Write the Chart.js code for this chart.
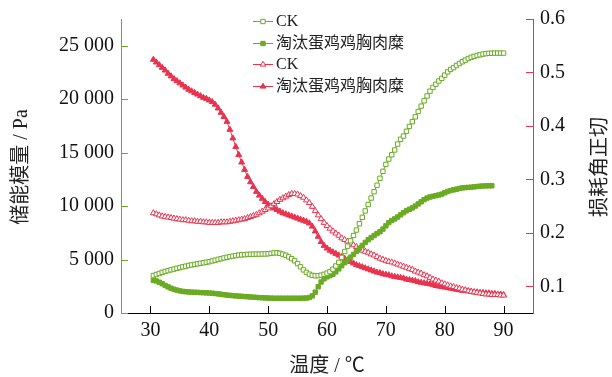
<!DOCTYPE html>
<html>
<head>
<meta charset="utf-8">
<script src="https://cdn.jsdelivr.net/npm/chart.js@4/dist/chart.umd.min.js"></script>
<style>
  html, body { margin: 0; padding: 0; background: #fff; }
  #chart { display: block; }
</style>
</head>
<body>
<canvas id="chart" width="612" height="377"></canvas>
<script>
// Temperature of each sample (°C)
const temps = [
  30.5,31,31.5,32,32.5,33,33.5,34,34.5,35,
  35.5,36,36.5,37,37.5,38,38.5,39,39.5,40,
  40.5,41,41.5,42,42.5,43,43.5,44,44.5,45,
  45.5,46,46.5,47,47.5,48,48.5,49,49.5,50,
  50.5,51,51.5,52,52.5,53,53.5,54,54.5,55,
  55.5,56,56.5,57,57.5,58,58.5,59,59.5,60,
  60.5,61,61.5,62,62.5,63,63.5,64,64.5,65,
  65.5,66,66.5,67,67.5,68,68.5,69,69.5,70,
  70.5,71,71.5,72,72.5,73,73.5,74,74.5,75,
  75.5,76,76.5,77,77.5,78,78.5,79,79.5,80,
  80.5,81,81.5,82,82.5,83,83.5,84,84.5,85,
  85.5,86,86.5,87,87.5,88,88.5,89,89.5,90
];

// storage modulus G' (Pa), CK
const ckStorage = [
  3500,3600,3700,3800,3880,3960,4040,4110,4180,4250,
  4320,4380,4440,4500,4550,4600,4650,4700,4750,4800,
  4870,4940,5010,5080,5150,5210,5270,5320,5370,5420,
  5440,5460,5480,5500,5500,5510,5510,5520,5520,5540,
  5580,5620,5630,5580,5500,5400,5250,5080,4880,4620,
  4320,4030,3800,3630,3520,3480,3490,3540,3620,3730,
  3870,4100,4400,4730,5200,5750,6250,6750,7250,7760,
  8350,8950,9550,10150,10750,11350,11950,12600,13250,13900,
  14400,14800,15250,15800,16250,16550,17000,17450,17900,18350,
  18850,19350,19850,20300,20750,21100,21400,21700,21950,22250,
  22550,22780,22950,23150,23330,23500,23650,23800,23920,24000,
  24080,24150,24220,24260,24290,24300,24310,24310,24310,24310
];

// storage modulus G' (Pa), spent hen breast meat
const henStorage = [
  3050,3000,2880,2740,2580,2440,2320,2220,2140,2070,
  2020,1990,1970,1950,1940,1930,1910,1900,1880,1870,
  1850,1820,1790,1750,1710,1680,1650,1620,1600,1580,
  1560,1540,1520,1500,1480,1460,1440,1420,1410,1400,
  1390,1380,1380,1380,1380,1380,1380,1380,1380,1380,
  1380,1390,1400,1450,1600,1950,2450,2900,3200,3380,
  3500,3620,3850,4130,4420,4700,4960,5220,5480,5760,
  6040,6320,6600,6850,7050,7250,7430,7600,7850,8150,
  8450,8650,8800,8980,9180,9380,9560,9700,9830,10000,
  10200,10400,10600,10750,10850,10920,10980,11040,11120,11250,
  11370,11450,11520,11580,11650,11700,11730,11750,11770,11800,
  11830,11860,11880,11890,11900,11900,null,null,null,null
];

// loss tangent, CK
const ckTan = [
  0.237,0.235,0.233,0.231,0.230,0.229,0.228,0.227,0.226,0.225,
  0.224,0.224,0.223,0.222,0.222,0.221,0.221,0.220,0.220,0.219,
  0.219,0.219,0.219,0.220,0.220,0.220,0.221,0.222,0.223,0.224,
  0.225,0.226,0.228,0.230,0.232,0.234,0.237,0.240,0.243,0.246,
  0.250,0.254,0.258,0.262,0.265,0.268,0.271,0.273,0.273,0.272,
  0.269,0.266,0.261,0.256,0.249,0.241,0.233,0.226,0.219,0.213,
  0.208,0.203,0.199,0.195,0.190,0.187,0.184,0.180,0.177,0.174,
  0.170,0.167,0.165,0.163,0.160,0.158,0.155,0.152,0.150,0.148,
  0.146,0.145,0.143,0.141,0.139,0.137,0.135,0.133,0.131,0.128,
  0.126,0.124,0.121,0.119,0.116,0.113,0.111,0.109,0.106,0.104,
  0.102,0.100,0.099,0.097,0.096,0.094,0.093,0.091,0.090,0.089,
  0.088,0.087,0.086,0.085,0.085,0.084,0.084,0.084,0.083,0.083
];

// loss tangent, spent hen breast meat
const henTan = [
  0.524,0.519,0.514,0.509,0.504,0.498,0.493,0.488,0.484,0.480,
  0.476,0.472,0.468,0.465,0.462,0.459,0.456,0.453,0.451,0.448,
  0.445,0.440,0.433,0.425,0.417,0.408,0.393,0.377,0.361,0.346,
  0.332,0.318,0.305,0.295,0.286,0.277,0.270,0.264,0.258,0.253,
  0.249,0.246,0.243,0.240,0.237,0.235,0.233,0.231,0.229,0.227,
  0.225,0.223,0.221,0.218,0.212,0.203,0.193,0.183,0.176,0.171,
  0.167,0.164,0.161,0.158,0.155,0.152,0.149,0.146,0.143,0.140,
  0.138,0.136,0.134,0.132,0.130,0.128,0.126,0.125,0.123,0.122,
  0.121,0.119,0.118,0.117,0.116,0.115,0.113,0.112,0.111,0.110,
  0.108,0.107,0.106,0.105,0.104,0.103,0.101,0.100,0.099,0.098,
  0.097,0.096,0.095,0.094,0.093,0.092,0.092,0.091,0.090,0.089,
  0.089,0.088,0.088,0.087,0.087,0.086,0.086,0.085,0.085,0.084
];

const seriesNames = ["CK", "淘汰蛋鸡鸡胸肉糜", "CK", "淘汰蛋鸡鸡胸肉糜"];
const xTicks = [30, 40, 50, 60, 70, 80, 90];
const leftTicks = [0, 5000, 10000, 15000, 20000, 25000];
const leftTickLabels = ["0", "5 000", "10 000", "15 000", "20 000", "25 000"];
const rightTicks = [0.1, 0.2, 0.3, 0.4, 0.5, 0.6];
const rightTickLabels = ["0.1", "0.2", "0.3", "0.4", "0.5", "0.6"];

const GREEN = "#6aab23";
const RED = "#e8334f";
const SERIF = "'Liberation Serif', 'Noto Sans CJK SC', serif";

const pts = vals => temps.map((t, i) => ({ x: t, y: vals[i] }));

const styles = [
  { color: GREEN, shape: "rect", filled: false, axis: "yL", r: 3.1, data: ckStorage },
  { color: GREEN, shape: "rect", filled: true, axis: "yL", r: 3.1, data: henStorage },
  { color: RED, shape: "triangle", filled: false, axis: "yR", r: 3.4, data: ckTan },
  { color: RED, shape: "triangle", filled: true, axis: "yR", r: 3.4, data: henTan }
];

const datasets = styles.map((s, i) => ({
  label: seriesNames[i],
  data: pts(s.data),
  yAxisID: s.axis,
  borderColor: s.color,
  borderWidth: 1,
  backgroundColor: s.filled ? s.color : "#fff",
  pointStyle: s.shape,
  pointRadius: s.r,
  pointBorderWidth: 1,
  pointBorderColor: s.color,
  pointBackgroundColor: s.filled ? s.color : "#fff",
  spanGaps: false,
  tension: 0
}));

// draw a marker shape (legend only)
function marker(ctx, s, x, y) {
  ctx.beginPath();
  if (s.shape === "rect") {
    ctx.rect(x - 2.2, y - 2.2, 4.4, 4.4);
  } else {
    ctx.moveTo(x, y - 3.2);
    ctx.lineTo(x + 2.8, y + 1.6);
    ctx.lineTo(x - 2.8, y + 1.6);
    ctx.closePath();
  }
  ctx.fillStyle = s.filled ? s.color : "#fff";
  ctx.fill();
  ctx.strokeStyle = s.color;
  ctx.lineWidth = 1;
  ctx.stroke();
}

// inward ticks, axis titles, legend
const decorations = {
  id: "decorations",
  afterDraw(chart) {
    const ctx = chart.ctx;
    const { x, yL, yR } = chart.scales;
    const a = chart.chartArea;
    ctx.save();
    ctx.lineWidth = 1;

    ctx.strokeStyle = "#000";
    xTicks.forEach(v => {
      const p = Math.round(x.getPixelForValue(v)) + 0.5;
      ctx.beginPath(); ctx.moveTo(p, a.bottom); ctx.lineTo(p, a.bottom - 7); ctx.stroke();
    });
    ctx.strokeStyle = GREEN;
    leftTicks.forEach(v => {
      const p = Math.round(yL.getPixelForValue(v)) + 0.5;
      ctx.beginPath(); ctx.moveTo(a.left, p); ctx.lineTo(a.left + 7, p); ctx.stroke();
    });
    ctx.strokeStyle = RED;
    rightTicks.forEach(v => {
      const p = Math.round(yR.getPixelForValue(v)) + 0.5;
      ctx.beginPath(); ctx.moveTo(a.right, p); ctx.lineTo(a.right - 7, p); ctx.stroke();
    });

    // titles
    ctx.fillStyle = "#222";
    ctx.font = "20px " + SERIF;
    ctx.textAlign = "center";
    ctx.textBaseline = "middle";
    ctx.fillText("温度 / ℃", 327, 367);
    ctx.save();
    ctx.translate(22, 167); ctx.rotate(-Math.PI / 2);
    ctx.fillText("储能模量 / Pa", 0, 0);
    ctx.restore();
    ctx.save();
    ctx.translate(601, 167); ctx.rotate(-Math.PI / 2);
    ctx.fillText("损耗角正切", 0, 0);
    ctx.restore();

    // legend
    const rows = [21, 43, 64, 86];
    ctx.font = "16px " + SERIF;
    ctx.textAlign = "left";
    styles.forEach((s, i) => {
      const y = rows[i] + 0.5;
      ctx.strokeStyle = s.color;
      ctx.beginPath(); ctx.moveTo(253, y); ctx.lineTo(273, y); ctx.stroke();
      marker(ctx, s, 263, y);
      ctx.fillStyle = "#222";
      ctx.fillText(seriesNames[i], 276, rows[i] + 1);
    });
    ctx.restore();
  }
};

new Chart(document.getElementById("chart"), {
  type: "line",
  data: { datasets },
  options: {
    responsive: false,
    animation: false,
    layout: { padding: { top: 19, left: 0, right: 0, bottom: 0 } },
    plugins: { legend: { display: false }, tooltip: { enabled: false } },
    scales: {
      x: {
        type: "linear",
        min: 25, max: 95,
        afterBuildTicks: s => { s.ticks = xTicks.map(v => ({ value: v })); },
        afterFit: s => { s.height = 64; },
        grid: { display: false, drawTicks: false },
        border: { display: true, color: "#000", width: 1 },
        ticks: { color: "#111", font: { family: SERIF, size: 20 }, padding: 6, maxRotation: 0 }
      },
      yL: {
        position: "left",
        min: 0, max: 27500,
        afterBuildTicks: s => { s.ticks = leftTicks.map(v => ({ value: v })); },
        afterFit: s => { s.width = 121; },
        grid: { display: false, drawTicks: false },
        border: { display: true, color: GREEN, width: 1 },
        ticks: {
          color: "#111", font: { family: SERIF, size: 20 }, padding: 7,
          callback: (v) => leftTickLabels[leftTicks.indexOf(v)]
        }
      },
      yR: {
        position: "right",
        min: 0.05, max: 0.6,
        afterBuildTicks: s => { s.ticks = rightTicks.map(v => ({ value: v })); },
        afterFit: s => { s.width = 79; },
        grid: { display: false, drawTicks: false },
        border: { display: true, color: RED, width: 1 },
        ticks: {
          color: "#111", font: { family: SERIF, size: 20 }, padding: 7,
          callback: (v) => rightTickLabels[rightTicks.indexOf(v)]
        }
      }
    }
  },
  plugins: [decorations]
});
</script>
</body>
</html>
